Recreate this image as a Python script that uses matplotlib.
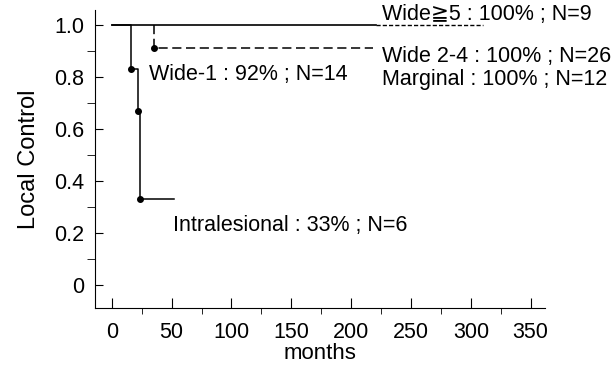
import matplotlib
matplotlib.use("Agg")
import matplotlib.pyplot as plt
from matplotlib.ticker import MultipleLocator

# Kaplan-Meier style step curves (months, local control)
intra_t = [0, 16, 22, 24, 52]
intra_s = [1.0, 0.83, 0.67, 0.33, 0.33]
intra_dots_t = [16, 22, 24]
intra_dots_s = [0.83, 0.67, 0.33]

wide1_t = [35, 35, 218]
wide1_s = [1.0, 0.91, 0.91]
wide1_dot_t = [35]
wide1_dot_s = [0.91]

wide5_t = [0, 221]
wide5_s = [1.0, 1.0]

wide24_t = [221, 310]
wide24_s = [1.0, 1.0]

labels = [
    ("Wide 2-4 : 100% ; N=26", 226, 0.88),
    ("Marginal : 100% ; N=12", 226, 0.79),
    ("Wide-1 : 92% ; N=14", 31, 0.81),
    ("Intralesional : 33% ; N=6", 51, 0.23),
]
top_label = ("Wide\u22675 : 100% ; N=9", 226, 1.0)

x_ticks = [0, 50, 100, 150, 200, 250, 300, 350]
y_ticks = [0, 0.2, 0.4, 0.6, 0.8, 1.0]
y_ticklabels = ["0", "0.2", "0.4", "0.6", "0.8", "1.0"]

plt.rcParams['font.family'] = ['Liberation Sans', 'DejaVu Sans']

fig = plt.figure(figsize=(6.13, 3.73), dpi=100)
ax = fig.add_axes([95 / 613, 65 / 373, 450 / 613, 298 / 373])

ax.step(intra_t, intra_s, where='post', color='black', lw=1.1)
ax.plot(intra_dots_t, intra_dots_s, 'o', color='black', ms=4)
ax.step(wide1_t, wide1_s, where='post', color='black', lw=1.1, dashes=(6, 3))
ax.plot(wide1_dot_t, wide1_dot_s, 'o', color='black', ms=4)
ax.plot(wide5_t, wide5_s, color='black', lw=1.2)
ax.plot(wide24_t, wide24_s, color='black', lw=1.0, dashes=(3, 1.5))

for txt, x, y in labels:
    ax.text(x, y, txt, fontsize=15.5, va='center', ha='left')
ax.text(top_label[1], top_label[2], top_label[0], fontsize=15.5,
        va='bottom', ha='left')

ax.set_xlim(-14, 362)
ax.set_ylim(-0.0885, 1.0577)
ax.set_xticks(x_ticks)
ax.xaxis.set_minor_locator(MultipleLocator(25))
ax.set_yticks(y_ticks)
ax.set_yticklabels(y_ticklabels)
ax.yaxis.set_minor_locator(MultipleLocator(0.1))
ax.tick_params(axis='both', direction='in', labelsize=15.5)
ax.tick_params(axis='x', which='major', length=7, pad=10)
ax.tick_params(axis='x', which='minor', length=4)
ax.tick_params(axis='y', which='both', length=6, pad=8)

ax.spines['top'].set_visible(False)
ax.spines['right'].set_visible(False)
ax.set_xlabel("months", fontsize=16, labelpad=0)
ax.set_ylabel("Local Control", fontsize=17, labelpad=10)

fig.savefig("out.png", dpi=100)
